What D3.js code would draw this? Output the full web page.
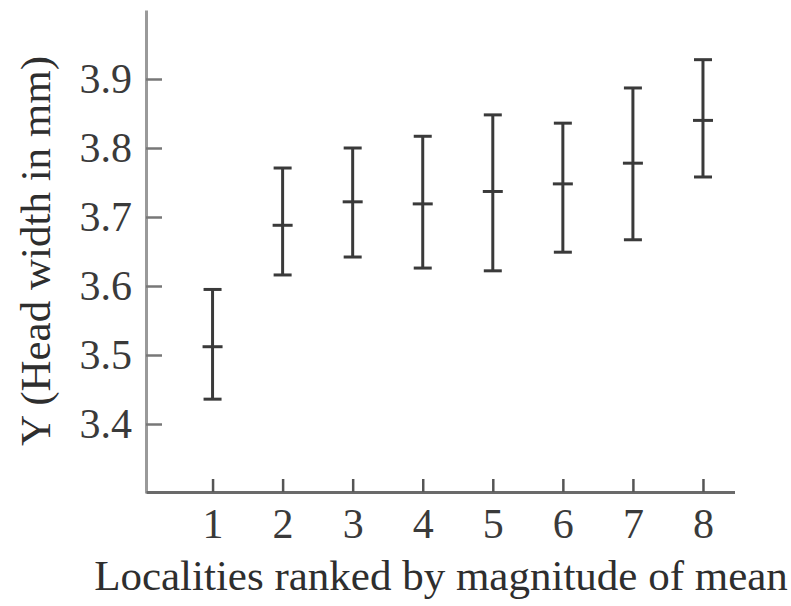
<!DOCTYPE html>
<html><head><meta charset="utf-8">
<script src="https://cdn.jsdelivr.net/npm/d3@7"></script>
<style>body{margin:0;background:#fff}svg{display:block}</style>
</head><body><svg id="c" width="791" height="606"></svg>
<script>
const localities = [1, 2, 3, 4, 5, 6, 7, 8];
const means = [3.512, 3.688, 3.722, 3.719, 3.737, 3.748, 3.778, 3.840];
const lower = [3.436, 3.616, 3.642, 3.626, 3.622, 3.649, 3.667, 3.758];
const upper = [3.595, 3.771, 3.800, 3.817, 3.848, 3.836, 3.887, 3.928];
const yTicks = [3.4, 3.5, 3.6, 3.7, 3.8, 3.9];
const xLabel = "Localities ranked by magnitude of mean";
const yLabel = "Y (Head width in mm)";

const svg = d3.select("#c");
const font = "'Liberation Serif','Times New Roman',serif";
const ink = "#2e2e2e";

const x = d3.scaleLinear().domain([0.05, 8.45]).range([146, 734.5]);
const y = d3.scaleLinear().domain([3.3, 4.0]).range([493, 10]);

const gy = svg.append("g").attr("transform", `translate(${x(0.05)},0)`)
  .call(d3.axisLeft(y).tickValues(yTicks).tickFormat(d3.format(".1f"))
        .tickSize(-16).tickSizeOuter(0).tickPadding(14));
gy.select(".domain").attr("stroke", "#9a9a9a").attr("stroke-width", 3);
gy.selectAll(".tick line").attr("stroke", "#777").attr("stroke-width", 2.5);
gy.selectAll(".tick text").attr("font-family", font).attr("font-size", 42)
  .attr("fill", "#3a3a3a");

const gx = svg.append("g").attr("transform", `translate(0,${y(3.3) - 1})`)
  .call(d3.axisBottom(x).tickValues(localities).tickFormat(d3.format("d"))
        .tickSize(-13).tickSizeOuter(0).tickPadding(16));
gx.select(".domain").attr("stroke", "#6a6a6a").attr("stroke-width", 3);
gx.selectAll(".tick line").attr("stroke", "#555").attr("stroke-width", 2.5);
gx.selectAll(".tick text").attr("font-family", font).attr("font-size", 42)
  .attr("fill", "#3a3a3a");

const data = localities.map((k, i) => ({k, m: means[i], lo: lower[i], hi: upper[i]}));
const bars = svg.append("g").selectAll("g").data(data).join("g")
  .attr("stroke", "#3a3a3a").attr("stroke-width", 3);
bars.append("line").attr("x1", d => x(d.k)).attr("x2", d => x(d.k))
  .attr("y1", d => y(d.hi)).attr("y2", d => y(d.lo));
[["hi", 18], ["lo", 18], ["m", 20]].forEach(([key, w]) => {
  bars.append("line").attr("x1", d => x(d.k) - w / 2).attr("x2", d => x(d.k) + w / 2)
    .attr("y1", d => y(d[key])).attr("y2", d => y(d[key]));
});

svg.append("text").attr("x", 441).attr("y", 590).attr("text-anchor", "middle")
  .attr("font-family", font).attr("font-size", 43).attr("fill", ink).text(xLabel);

svg.append("text").attr("transform", "translate(50,251) rotate(-90)")
  .attr("text-anchor", "middle").attr("font-family", font).attr("font-size", 43)
  .attr("fill", ink).text(yLabel);
</script></body></html>
